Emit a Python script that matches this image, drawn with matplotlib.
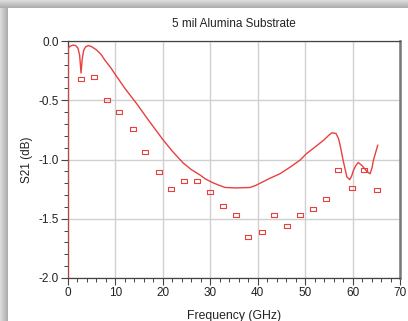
import numpy as np
import matplotlib
matplotlib.use("Agg")
import matplotlib.pyplot as plt
from matplotlib.ticker import MultipleLocator

plt.rcParams['font.family'] = ['Liberation Sans', 'DejaVu Sans']

# simulated S21 curve
sim_f = [0.0, 0.05, 0.4, 1.0, 1.6, 2.1, 2.45, 2.75, 3.0, 3.3, 3.7, 4.3, 5.0, 6.0, 7.0,
         7.8, 9.0, 10.1, 12.0, 14.5, 17.0, 20.1, 22.0, 24.3, 26.0, 27.8, 29.0, 30.6,
         31.7, 33.1, 35.5, 38.4, 39.5, 40.5, 42.5, 44.7, 47.0, 48.9, 50.3, 51.7, 53.9,
         55.0, 55.6, 56.5, 57.0, 57.3, 58.0, 58.8, 59.4, 59.8, 60.2, 60.7, 61.2, 61.9,
         63.0, 63.7, 64.1, 64.4, 65.3]
sim_s21 = [-2.3, -0.06, -0.045, -0.035, -0.038, -0.06, -0.12, -0.27, -0.15, -0.08,
           -0.05, -0.038, -0.048, -0.075, -0.115, -0.163, -0.225, -0.29, -0.40, -0.53,
           -0.67, -0.837, -0.93, -1.03, -1.085, -1.13, -1.165, -1.197, -1.215, -1.236,
           -1.24, -1.236, -1.22, -1.20, -1.16, -1.12, -1.06, -1.006, -0.95, -0.907,
           -0.837, -0.795, -0.775, -0.78, -0.82, -0.865, -1.006, -1.147, -1.17, -1.14,
           -1.09, -1.05, -1.025, -1.048, -1.10, -1.12, -1.07, -1.006, -0.88]

# measured points
meas_f = [2.7, 5.5, 8.2, 10.8, 13.6, 16.3, 19.1, 21.7, 24.5, 27.1, 29.9, 32.6, 35.4,
          38.0, 40.9, 43.5, 46.1, 48.9, 51.6, 54.3, 57.0, 59.8, 62.5, 65.2]
meas_s21 = [-0.32, -0.30, -0.50, -0.60, -0.74, -0.94, -1.105, -1.25, -1.18, -1.18,
            -1.275, -1.39, -1.47, -1.65, -1.61, -1.47, -1.56, -1.47, -1.42, -1.33,
            -1.09, -1.24, -1.085, -1.26]

W, H = 408, 321
fig = plt.figure(figsize=(W / 100, H / 100), dpi=100)

# window shadow along top and left edge
bg = np.ones((H, W, 3))
for i in range(8):
    g = 0.86 - 0.18 * i / 7
    bg[i, :, :] = g
    bg[i:, i, :] = np.minimum(bg[i:, i, :], g)
fig.figimage(bg, 0, 0, origin='upper', zorder=-10)

ax = fig.add_axes([68 / W, 1 - 278 / H, 332 / W, 237 / H])
ax.set_zorder(5)
ax.set_facecolor('white')

red = '#e8403f'
ax.plot(sim_f, sim_s21, color=red, lw=1.0, zorder=3)
rect = [(-1.4, -1), (1.4, -1), (1.4, 1), (-1.4, 1), (-1.4, -1)]
ax.plot(meas_f, meas_s21, ls='none', marker=rect, ms=4.6, mfc='none',
        mec=red, mew=0.8, zorder=3)

ax.set_xlim(0, 70)
ax.set_ylim(-2.0, 0.0)
ax.xaxis.set_major_locator(MultipleLocator(10))
ax.xaxis.set_minor_locator(MultipleLocator(2))
ax.yaxis.set_major_locator(MultipleLocator(0.5))
ax.yaxis.set_minor_locator(MultipleLocator(0.1))
ax.yaxis.set_major_formatter(plt.FuncFormatter(lambda v, p: '%.1f' % v))
ax.grid(True, which='major', color='#d0d0d0', lw=1.0, zorder=0)
ax.set_axisbelow(True)

ax.tick_params(which='major', length=5, width=0.8, color='#444', labelsize=8.5,
               labelcolor='#222', pad=1.5)
ax.tick_params(which='minor', length=3, width=0.7, color='#444')
for s in ['left', 'bottom', 'top']:
    ax.spines[s].set_color('#444')
    ax.spines[s].set_linewidth(0.9)
ax.spines['right'].set_color('#777')
ax.spines['right'].set_linewidth(1.8)

ax.set_title('5 mil Alumina Substrate', fontsize=8.5, color='#222', pad=10)
ax.set_xlabel('Frequency (GHz)', fontsize=8.8, color='#222', labelpad=8)
ax.set_ylabel('S21 (dB)', fontsize=8.5, color='#222', labelpad=4)

fig.savefig('out.png', dpi=100)
